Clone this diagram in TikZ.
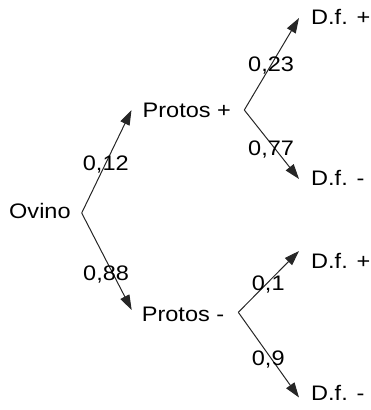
\documentclass[tikz,border=0pt]{standalone}
\usepackage{fontspec}
\setmainfont{Liberation Sans}[FakeStretch=1.12]
\usetikzlibrary{arrows.meta}
\begin{document}
\begin{tikzpicture}[x=1pt,y=-1pt,
  lbl/.style={anchor=base west,inner sep=0pt,font=\fontsize{21}{21}\selectfont},
  arr/.style={draw=black!85,line width=1pt,-{Triangle[length=15pt,width=10pt]}}]
\useasboundingbox (0,0) rectangle (371,410);
% text nodes
\node[lbl] (ov) at (9,218.3) {Ovino};
\node[lbl] (pp) at (142.5,117.7) {Protos +};
\node[lbl] (pm) at (141.7,321.7) {Protos -};
\node[lbl] (d1) at (311,24.3) {D.f. +};
\node[lbl] (d2) at (311,185) {D.f. -};
\node[lbl] (d3) at (311,268.3) {D.f. +};
\node[lbl] (d4) at (311,400) {D.f. -};
% branch vertices and tips
\coordinate (v0) at (81.7,213);
\coordinate (v1) at (244.3,110);
\coordinate (v2) at (238.3,312.3);
\coordinate (tpp) at (131.5,110);
\coordinate (tpm) at (131.7,310);
\coordinate (t1) at (299,18);
\coordinate (t2) at (299,179);
\coordinate (t3) at (299,251);
\coordinate (t4) at (299,397.5);
\draw[arr] (v0) -- (tpp);
\draw[arr] (v0) -- (tpm);
\draw[arr] (v1) -- (t1);
\draw[arr] (v1) -- (t2);
\draw[arr] (v2) -- (t3);
\draw[arr] (v2) -- (t4);
% probabilities
\node[lbl] (l1) at (82.7,170) {0,12};
\node[lbl] (l2) at (83,280) {0,88};
\node[lbl] (l3) at (248,71.7) {0,23};
\node[lbl] (l4) at (248,155) {0,77};
\node[lbl] (l5) at (251.7,290) {0,1};
\node[lbl] (l6) at (251.7,365) {0,9};
\end{tikzpicture}
\end{document}
